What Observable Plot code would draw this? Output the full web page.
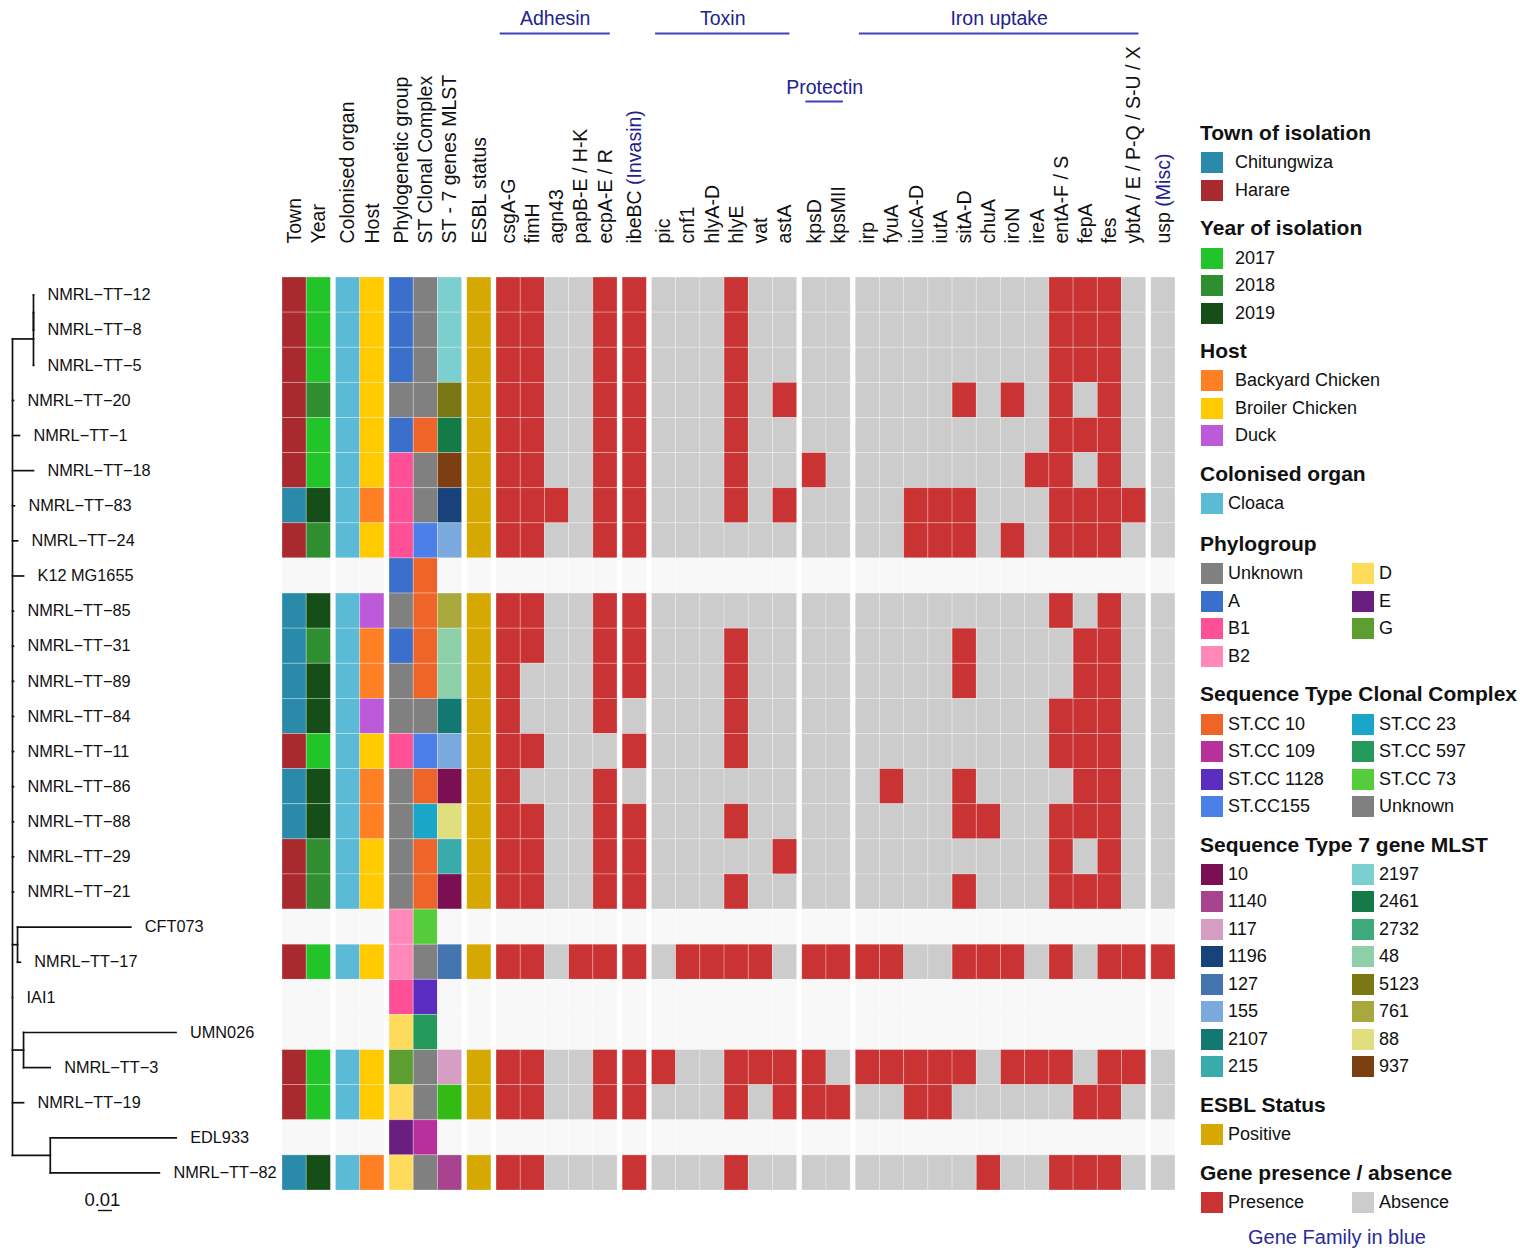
<!DOCTYPE html>
<html>
<head>
<meta charset="utf-8">
<script src="https://cdn.jsdelivr.net/npm/d3@7"></script>
<script src="https://cdn.jsdelivr.net/npm/@observablehq/plot@0.6"></script>
<style>
  html, body { margin: 0; padding: 0; background: #fff; }
  #wrap { position: relative; width: 1535px; height: 1252px; overflow: hidden;
          font-family: "Liberation Sans", Arial, Helvetica, sans-serif; color: #111; }
  #tree { position: absolute; left: 0; top: 0; }
  #heat { position: absolute; left: 272px; top: 0; }
  #legend { position: absolute; left: 1200px; top: 120px; }
  .lg-title { font-weight: bold; font-size: 21px; height: 26px; line-height: 26px; white-space: nowrap; }
  .lg-items { display: grid; grid-auto-flow: column; grid-template-columns: 151px 151px; margin-top: 3px; }
  .lg-item { display: flex; align-items: center; height: 27.5px; font-size: 18px; white-space: nowrap; }
  .lg-sw { width: 22px; height: 21px; flex: none; margin-left: 1px; }
  .lg-sec { margin-bottom: 11.25px; }
  .lg-foot { font-size: 20px; line-height: 20px; color: #2a2a9a; text-align: center; width: 274px; }
  svg { overflow: visible; }
</style>
</head>
<body>
<div id="wrap">
  <div id="tree"></div>
  <div id="heat"></div>
  <div id="legend"></div>
</div>
<script>
// ---------------- DATA ----------------
const taxa = ["NMRL-TT-12","NMRL-TT-8","NMRL-TT-5","NMRL-TT-20","NMRL-TT-1","NMRL-TT-18","NMRL-TT-83","NMRL-TT-24",
  "K12 MG1655","NMRL-TT-85","NMRL-TT-31","NMRL-TT-89","NMRL-TT-84","NMRL-TT-11","NMRL-TT-86","NMRL-TT-88",
  "NMRL-TT-29","NMRL-TT-21","CFT073","NMRL-TT-17","IAI1","UMN026","NMRL-TT-3","NMRL-TT-19","EDL933","NMRL-TT-82"];

const town = ["Harare","Harare","Harare","Harare","Harare","Harare","Chitungwiza","Harare",
  null,"Chitungwiza","Chitungwiza","Chitungwiza","Chitungwiza","Harare","Chitungwiza","Chitungwiza",
  "Harare","Harare",null,"Harare",null,null,"Harare","Harare",null,"Chitungwiza"];

const year = ["2017","2017","2017","2018","2017","2017","2019","2018",
  null,"2019","2018","2019","2019","2017","2019","2019",
  "2018","2018",null,"2017",null,null,"2017","2017",null,"2019"];

const organ = ["Cloaca","Cloaca","Cloaca","Cloaca","Cloaca","Cloaca","Cloaca","Cloaca",
  null,"Cloaca","Cloaca","Cloaca","Cloaca","Cloaca","Cloaca","Cloaca",
  "Cloaca","Cloaca",null,"Cloaca",null,null,"Cloaca","Cloaca",null,"Cloaca"];

const host = ["Broiler Chicken","Broiler Chicken","Broiler Chicken","Broiler Chicken","Broiler Chicken","Broiler Chicken","Backyard Chicken","Broiler Chicken",
  null,"Duck","Backyard Chicken","Backyard Chicken","Duck","Broiler Chicken","Backyard Chicken","Backyard Chicken",
  "Broiler Chicken","Broiler Chicken",null,"Broiler Chicken",null,null,"Broiler Chicken","Broiler Chicken",null,"Backyard Chicken"];

const phylogroup = ["A","A","A","Unknown","A","B1","B1","B1",
  "A","Unknown","A","Unknown","Unknown","B1","Unknown","Unknown",
  "Unknown","Unknown","B2","B2","B1","D","G","D","E","D"];

const stClonalComplex = ["Unknown","Unknown","Unknown","Unknown","ST.CC 10","Unknown","Unknown","ST.CC155",
  "ST.CC 10","ST.CC 10","ST.CC 10","ST.CC 10","Unknown","ST.CC155","ST.CC 10","ST.CC 23",
  "ST.CC 10","ST.CC 10","ST.CC 73","Unknown","ST.CC 1128","ST.CC 597","Unknown","Unknown","ST.CC 109","Unknown"];

const mlst = ["2197","2197","2197","5123","2461","937","1196","155",
  null,"761","48","48","2107","155","10","88",
  "215","10",null,"127",null,null,"117","unlisted",null,"1140"];

const esbl = ["Positive","Positive","Positive","Positive","Positive","Positive","Positive","Positive",
  null,"Positive","Positive","Positive","Positive","Positive","Positive","Positive",
  "Positive","Positive",null,"Positive",null,null,"Positive","Positive",null,"Positive"];

// gene families (column order) ; profiles: adhesin | invasin | toxin | protectin | iron uptake | misc
const adhesinGenes   = ["csgA-G","fimH","agn43","papB-E / H-K","ecpA-E / R"];
const invasinGenes   = ["ibeBC"];
const toxinGenes     = ["pic","cnf1","hlyA-D","hlyE","vat","astA"];
const protectinGenes = ["kpsD","kpsMII"];
const ironGenes      = ["irp","fyuA","iucA-D","iutA","sitA-D","chuA","iroN","ireA","entA-F / S","fepA","fes","ybtA / E / P-Q / S-U / X"];
const miscGenes      = ["usp"];

const geneProfiles = [
  "11001 1 000100 00 000000001110 0", // TT-12
  "11001 1 000100 00 000000001110 0", // TT-8
  "11001 1 000100 00 000000001110 0", // TT-5
  "11001 1 000101 00 000010101010 0", // TT-20
  "11001 1 000100 00 000000001110 0", // TT-1
  "11001 1 000100 10 000000011010 0", // TT-18
  "11101 1 000101 00 001110001111 0", // TT-83
  "11001 1 000000 00 001110101110 0", // TT-24
  null,                               // K12 MG1655
  "11001 1 000000 00 000000001010 0", // TT-85
  "11001 1 000100 00 000010000110 0", // TT-31
  "10001 1 000100 00 000010000110 0", // TT-89
  "10001 0 000100 00 000000001110 0", // TT-84
  "11000 1 000100 00 000000001110 0", // TT-11
  "10001 0 000000 00 010010000110 0", // TT-86
  "11001 1 000100 00 000011001110 0", // TT-88
  "11001 1 000001 00 000000001010 0", // TT-29
  "11001 1 000100 00 000010001110 0", // TT-21
  null,                               // CFT073
  "11011 1 011110 11 110011101011 1", // TT-17
  null,                               // IAI1
  null,                               // UMN026
  "11001 1 100111 10 111110111011 0", // TT-3
  "11001 1 000101 11 001100000110 0", // TT-19
  null,                               // EDL933
  "11000 1 000100 00 000001001110 0"  // TT-82
];

// phylogenetic tree: [parent, child, branch length (substitutions/site)]
const treeEdges = [
  ["root","cladeA",0.015], ["cladeA","cladeA1",0], ["cladeA1","NMRL-TT-12",0], ["cladeA1","NMRL-TT-8",0], ["cladeA","NMRL-TT-5",0],
  ["root","NMRL-TT-20",0.0007], ["root","NMRL-TT-1",0.005], ["root","NMRL-TT-18",0.015],
  ["root","NMRL-TT-83",0.0014], ["root","NMRL-TT-24",0.0036], ["root","K12 MG1655",0.0079],
  ["root","NMRL-TT-85",0.0007], ["root","NMRL-TT-31",0.0007], ["root","NMRL-TT-89",0.0007],
  ["root","NMRL-TT-84",0.0007], ["root","NMRL-TT-11",0.0007], ["root","NMRL-TT-86",0.0007],
  ["root","NMRL-TT-88",0.0007], ["root","NMRL-TT-29",0.0007], ["root","NMRL-TT-21",0.0007],
  ["root","cladeC",0.0036], ["cladeC","CFT073",0.081], ["cladeC","NMRL-TT-17",0.002],
  ["root","IAI1",0.0],
  ["root","cladeU",0.0079], ["cladeU","UMN026",0.109], ["cladeU","NMRL-TT-3",0.019],
  ["root","NMRL-TT-19",0.0079],
  ["root","cladeE",0.027], ["cladeE","EDL933",0.09], ["cladeE","NMRL-TT-82",0.078]
];
const treeScaleLabel = "0.01";
const treeScaleLength = 0.01;

// legend levels and colours
const townLevels = ["Chitungwiza","Harare"];
const townColors = ["#2a8aaa","#a8292e"];
const yearLevels = ["2017","2018","2019"];
const yearColors = ["#22c42a","#2f8f30","#164e17"];
const hostLevels = ["Backyard Chicken","Broiler Chicken","Duck"];
const hostColors = ["#ff7f24","#ffcb00","#bd5ad9"];
const organLevels = ["Cloaca"];
const organColors = ["#5bbad5"];
const phyloLevels = ["Unknown","A","B1","B2","D","E","G"];
const phyloColors = ["#808080","#3a6fcc","#ff4f96","#ff88b8","#ffdb5c","#6a1f80","#5c9e30"];
const stccLevels = ["ST.CC 10","ST.CC 109","ST.CC 1128","ST.CC155","ST.CC 23","ST.CC 597","ST.CC 73","Unknown"];
const stccColors = ["#ef6428","#b8309c","#5a2dc0","#4d7fe8","#19a6c8","#239a5a","#55cc3c","#808080"];
const mlstLevels = ["10","1140","117","1196","127","155","2107","215","2197","2461","2732","48","5123","761","88","937"];
const mlstColors = ["#7a1052","#a8448f","#d69ec3","#17427a","#4575ae","#7aa9dd","#137872","#3aabab",
                    "#7bcfcf","#147a47","#3ea97a","#8ccfa9","#7a7812","#a9a83c","#e0df7d","#7b3f12"];
const mlstUnlistedColor = "#32bb12";
const esblLevels = ["Positive"];
const esblColors = ["#d6a902"];
const geneLevels = ["Presence","Absence"];
const geneColors = ["#c93333","#cccccc"];
const missingColor = "#f8f8f8";
const familyColor = "#22228f";
const familyRuleColor = "#4040c0";

// ---------------- BUILD ----------------
const FONT = "Liberation Sans, Arial, Helvetica, sans-serif";
const metaColumns = [
  {label: "Town", values: town, levels: townLevels, colors: townColors},
  {label: "Year", values: year, levels: yearLevels, colors: yearColors},
  {label: "Colonised organ", values: organ, levels: organLevels, colors: organColors},
  {label: "Host", values: host, levels: hostLevels, colors: hostColors},
  {label: "Phylogenetic group", values: phylogroup, levels: phyloLevels, colors: phyloColors},
  {label: "ST Clonal Complex", values: stClonalComplex, levels: stccLevels, colors: stccColors},
  {label: "ST - 7 genes MLST", values: mlst, levels: [...mlstLevels, "unlisted"], colors: [...mlstColors, mlstUnlistedColor]},
  {label: "ESBL status", values: esbl, levels: esblLevels, colors: esblColors}
];
const metaByLabel = new Map(metaColumns.map(c => [c.label, c]));
const allGenes = [...adhesinGenes, ...invasinGenes, ...toxinGenes, ...protectinGenes, ...ironGenes, ...miscGenes];
const profiles = geneProfiles.map(p => p == null ? null : p.replace(/\s+/g, ""));

const columnBlocks = [
  ["Town","Year"], ["Colonised organ","Host"], ["Phylogenetic group","ST Clonal Complex","ST - 7 genes MLST"], ["ESBL status"],
  adhesinGenes, invasinGenes, toxinGenes, protectinGenes, ironGenes, miscGenes
];
const blockNotes = new Map([[invasinGenes[0], "(Invasin)"], [miscGenes[0], "(Misc)"]]);
const familyHeaders = [
  {label: "Adhesin", genes: adhesinGenes, tier: 0},
  {label: "Toxin", genes: toxinGenes, tier: 0},
  {label: "Iron uptake", genes: ironGenes, tier: 0},
  {label: "Protectin", genes: protectinGenes, tier: 1}
];

const gapUnits = 0.2107;
const columns = [];
let j = 0;
columnBlocks.forEach((block, b) => {
  for (const label of block) {
    columns.push({label, x: j + b * gapUnits, meta: metaByLabel.get(label), geneIndex: allGenes.indexOf(label)});
    j++;
  }
});
const xMax = j + (columnBlocks.length - 1) * gapUnits;
const colX = new Map(columns.map(c => [c.label, c.x]));

const colorDomain = ["NA"], colorRange = [missingColor];
for (const c of metaColumns) c.levels.forEach((l, i) => { colorDomain.push(c.label + "|" + l); colorRange.push(c.colors[i]); });
geneLevels.forEach((l, i) => { colorDomain.push("gene|" + l); colorRange.push(geneColors[i]); });

const cells = [];
taxa.forEach((t, row) => {
  for (const c of columns) {
    let key;
    if (c.meta) {
      const v = c.meta.values[row];
      key = v == null ? "NA" : c.meta.label + "|" + v;
    } else {
      const p = profiles[row];
      key = p == null ? "NA" : "gene|" + (p[c.geneIndex] === "1" ? "Presence" : "Absence");
    }
    cells.push({row, x: c.x, key});
  }
});

// ---- tree layout ----
const nodes = new Map([["root", {id: "root", x: 0, children: [], parent: null}]]);
for (const [p, c, len] of treeEdges) {
  const parent = nodes.get(p);
  const node = {id: c, x: parent.x + len, children: [], parent};
  nodes.set(c, node);
  parent.children.push(node);
}
function setY(n) {
  if (n.children.length === 0) { n.y = taxa.indexOf(n.id); return n.y; }
  const ys = n.children.map(setY);
  n.y = d3.mean(ys);
  n.y1 = d3.min(n.children, c => c.y);
  n.y2 = d3.max(n.children, c => c.y);
  return n.y;
}
setY(nodes.get("root"));
const allNodes = [...nodes.values()];
const hSegs = allNodes.filter(n => n.parent).map(n => ({x1: n.parent.x, x2: n.x, y: n.y}));
const vSegs = allNodes.filter(n => n.children.length).map(n => ({x: n.x, y1: n.y1, y2: n.y2}));
const tips = allNodes.filter(n => n.children.length === 0);
const toMinus = s => s.replace(/-/g, "\u2212");

const rowsDomain = [-0.5, taxa.length - 0.5];
const treeDomainMax = 0.193;
const scaleBarStart = 0.0614;

const treePlot = Plot.plot({
  width: 282, height: 1252, marginLeft: 12, marginRight: 0, marginTop: 277, marginBottom: 62,
  x: {domain: [0, treeDomainMax], axis: null},
  y: {domain: rowsDomain, reverse: true, axis: null},
  style: {fontFamily: FONT, background: "transparent", overflow: "visible"},
  marks: [
    Plot.link(hSegs, {x1: "x1", x2: "x2", y1: "y", y2: "y", stroke: "#111", strokeWidth: 1.7, strokeLinecap: "square"}),
    Plot.link(vSegs, {x1: "x", x2: "x", y1: "y1", y2: "y2", stroke: "#111", strokeWidth: 1.7, strokeLinecap: "square"}),
    Plot.text(tips, {x: "x", y: "y", text: d => toMinus(d.id), dx: 14, textAnchor: "start", lineAnchor: "middle", fontSize: 16.3, fill: "#111"}),
    Plot.ruleY([treeScaleLength], {x1: d => scaleBarStart, x2: d => scaleBarStart + d, y: () => taxa.length - 0.5, dy: 20, stroke: "#111", strokeWidth: 1.4}),
    Plot.text([treeScaleLabel], {x: () => scaleBarStart + treeScaleLength / 2, text: d => d, frameAnchor: "bottom", dy: 10, dx: -3, fontSize: 18.5, fill: "#111", lineAnchor: "middle"})
  ]
});
document.getElementById("tree").appendChild(treePlot);

// ---- heatmap ----
const LABEL_SIZE = 19.5;
const ctx = document.createElement("canvas").getContext("2d");
ctx.font = `${LABEL_SIZE}px "Liberation Sans", Arial, sans-serif`;
const labelBase = -34;

const heatMarks = [
  Plot.rect(cells, {x1: "x", x2: d => d.x + 1, y1: d => d.row - 0.5, y2: d => d.row + 0.5, fill: "key",
    stroke: "#ffffff", strokeOpacity: 0.35, strokeWidth: 0.8}),
  Plot.text(columns, {x: d => d.x + 0.5, text: "label", frameAnchor: "top", dy: labelBase, rotate: -90,
    textAnchor: "start", lineAnchor: "middle", fontSize: LABEL_SIZE, fill: "#111"})
];
for (const [gene, note] of blockNotes) {
  const off = ctx.measureText(gene + " ").width;
  heatMarks.push(Plot.text([note], {x: () => colX.get(gene) + 0.5, text: d => d, frameAnchor: "top", dy: labelBase - off,
    rotate: -90, textAnchor: "start", lineAnchor: "middle", fontSize: LABEL_SIZE, fill: familyColor}));
}
for (const f of familyHeaders) {
  const x1 = colX.get(f.genes[0]) + 0.15, x2 = colX.get(f.genes[f.genes.length - 1]) + 1 - 0.3;
  const textDy = f.tier === 0 ? -259 : -190;
  const ruleDy = f.tier === 0 ? -244 : -176;
  heatMarks.push(Plot.ruleY([f], {x1: () => x1, x2: () => x2, y: () => rowsDomain[0], dy: ruleDy, stroke: familyRuleColor, strokeWidth: 2}));
  heatMarks.push(Plot.text([f], {x: () => (x1 + x2) / 2, text: "label", frameAnchor: "top", dy: textDy, lineAnchor: "middle",
    fontSize: LABEL_SIZE, fill: familyColor}));
}

const heatPlot = Plot.plot({
  width: 914, height: 1252, marginLeft: 10, marginRight: 11, marginTop: 277, marginBottom: 62,
  x: {domain: [0, xMax], axis: null},
  y: {domain: rowsDomain, reverse: true, axis: null},
  color: {type: "ordinal", domain: colorDomain, range: colorRange},
  style: {fontFamily: FONT, background: "transparent", overflow: "visible"},
  marks: heatMarks
});
document.getElementById("heat").appendChild(heatPlot);

// ---- legend ----
const legendSections = [
  {title: "Town of isolation", levels: townLevels, colors: townColors, cols: 1, gap: 12},
  {title: "Year of isolation", levels: yearLevels, colors: yearColors, cols: 1, gap: 12},
  {title: "Host", levels: hostLevels, colors: hostColors, cols: 1, gap: 12},
  {title: "Colonised organ", levels: organLevels, colors: organColors, cols: 1, gap: 5, extra: 2.5},
  {title: "Phylogroup", levels: phyloLevels, colors: phyloColors, cols: 2, gap: 5},
  {title: "Sequence Type Clonal Complex", levels: stccLevels, colors: stccColors, cols: 2, gap: 5},
  {title: "Sequence Type 7 gene MLST", levels: mlstLevels, colors: mlstColors, cols: 2, gap: 5},
  {title: "ESBL Status", levels: esblLevels, colors: esblColors, cols: 1, gap: 5},
  {title: "Gene presence / absence", levels: geneLevels, colors: geneColors, cols: 2, gap: 5}
];
const legend = document.getElementById("legend");
for (const s of legendSections) {
  const sec = document.createElement("div");
  sec.className = "lg-sec";
  if (s.extra) sec.style.marginBottom = (11.25 + s.extra) + "px";
  const t = document.createElement("div");
  t.className = "lg-title"; t.textContent = s.title;
  sec.appendChild(t);
  const items = document.createElement("div");
  items.className = "lg-items";
  const rows = Math.ceil(s.levels.length / s.cols);
  items.style.gridTemplateRows = `repeat(${rows}, 27.5px)`;
  s.levels.forEach((l, i) => {
    const it = document.createElement("div");
    it.className = "lg-item";
    const sw = document.createElement("span");
    sw.className = "lg-sw"; sw.style.background = s.colors[i];
    const lab = document.createElement("span");
    lab.textContent = l; lab.style.marginLeft = s.gap + "px";
    it.appendChild(sw); it.appendChild(lab);
    items.appendChild(it);
  });
  sec.appendChild(items);
  legend.appendChild(sec);
}
const foot = document.createElement("div");
foot.className = "lg-foot";
foot.textContent = "Gene Family in blue";
legend.appendChild(foot);
</script>
</body>
</html>
